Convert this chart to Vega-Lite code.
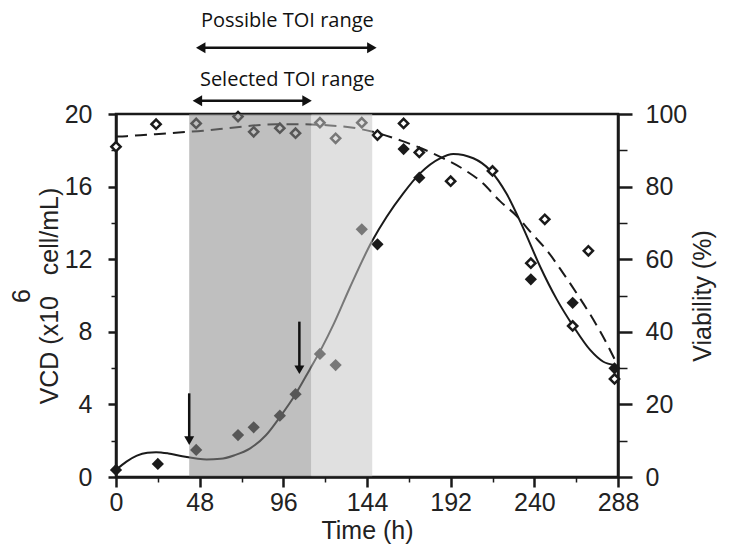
{
  "$schema": "https://vega.github.io/schema/vega-lite/v6.json",
  "width": 502,
  "height": 363,
  "autosize": {"type": "none"},
  "padding": {"left": 116, "top": 114, "right": 118, "bottom": 81},
  "background": "white",
  "config": {
    "view": {"stroke": "#1a1a1a", "strokeWidth": 2.5},
    "axis": {
      "grid": false,
      "labelFont": "Liberation Sans",
      "labelFontSize": 25,
      "labelColor": "#222222",
      "titleFont": "Liberation Sans",
      "titleFontSize": 25,
      "titleFontWeight": "normal",
      "titleColor": "#222222",
      "domainColor": "#1a1a1a",
      "domainWidth": 2.5,
      "tickColor": "#1a1a1a",
      "tickWidth": 2.5,
      "labelFlush": false,
      "labelOverlap": false
    }
  },
  "datasets": {
    "vcdFit": [
      {"t": 0, "v": 0.39}, {"t": 6, "v": 0.85}, {"t": 12, "v": 1.18}, {"t": 18, "v": 1.34},
      {"t": 23, "v": 1.37}, {"t": 30, "v": 1.3}, {"t": 38, "v": 1.14}, {"t": 46, "v": 1.02},
      {"t": 52, "v": 0.97}, {"t": 60, "v": 1.0}, {"t": 68, "v": 1.2}, {"t": 77, "v": 1.58},
      {"t": 86, "v": 2.3}, {"t": 94, "v": 3.3}, {"t": 103, "v": 4.56}, {"t": 111, "v": 5.9},
      {"t": 118, "v": 7.1}, {"t": 125, "v": 8.45}, {"t": 134, "v": 10.4}, {"t": 146.7, "v": 12.96},
      {"t": 155.3, "v": 14.34}, {"t": 164.8, "v": 15.63}, {"t": 174.4, "v": 16.73}, {"t": 185.9, "v": 17.56},
      {"t": 193.5, "v": 17.8}, {"t": 205, "v": 17.56}, {"t": 214.6, "v": 16.9}, {"t": 224.1, "v": 15.6},
      {"t": 233.7, "v": 13.7}, {"t": 243.3, "v": 11.6}, {"t": 252.8, "v": 9.8}, {"t": 262.4, "v": 8.3},
      {"t": 272, "v": 7.0}, {"t": 279.6, "v": 6.35}, {"t": 286, "v": 6.17}
    ],
    "vcdPts": [
      {"t": 0, "v": 0.39}, {"t": 24, "v": 0.72}, {"t": 46, "v": 1.49}, {"t": 70, "v": 2.31},
      {"t": 79, "v": 2.74}, {"t": 94, "v": 3.38}, {"t": 103, "v": 4.56}, {"t": 117, "v": 6.78},
      {"t": 126, "v": 6.17}, {"t": 141, "v": 13.65}, {"t": 150, "v": 12.82}, {"t": 165, "v": 18.07},
      {"t": 174, "v": 16.49}, {"t": 238, "v": 10.89}, {"t": 262, "v": 9.6}, {"t": 286, "v": 5.99}
    ],
    "viaFit": [
      {"t": 0, "v": 93.8}, {"t": 6, "v": 93.9}, {"t": 18, "v": 94.3}, {"t": 36, "v": 94.9},
      {"t": 50, "v": 95.4}, {"t": 64, "v": 96.1}, {"t": 76, "v": 96.7}, {"t": 92, "v": 97.2},
      {"t": 106, "v": 97.2}, {"t": 121, "v": 96.9}, {"t": 135, "v": 96.3}, {"t": 150.5, "v": 94.7},
      {"t": 164, "v": 92.6}, {"t": 175.4, "v": 90.5}, {"t": 186, "v": 88.2}, {"t": 199.3, "v": 84.8},
      {"t": 209.8, "v": 81.2}, {"t": 220.3, "v": 76.0}, {"t": 229.9, "v": 71.9}, {"t": 238.5, "v": 67.1},
      {"t": 247.1, "v": 62.5}, {"t": 256.6, "v": 56.1}, {"t": 264.3, "v": 50.6}, {"t": 273.9, "v": 43.3},
      {"t": 281.5, "v": 36.8}, {"t": 286, "v": 32.5}
    ],
    "viaPts": [
      {"t": 0, "v": 91.0}, {"t": 23, "v": 97.2}, {"t": 46, "v": 97.4}, {"t": 70, "v": 99.3},
      {"t": 79, "v": 95.1}, {"t": 94, "v": 96.1}, {"t": 103, "v": 94.7}, {"t": 117, "v": 97.6},
      {"t": 126, "v": 93.3}, {"t": 141, "v": 97.6}, {"t": 150, "v": 94.2}, {"t": 165, "v": 97.4},
      {"t": 174, "v": 89.4}, {"t": 192, "v": 81.5}, {"t": 216, "v": 84.3}, {"t": 238, "v": 58.9},
      {"t": 246, "v": 71.0}, {"t": 262, "v": 41.6}, {"t": 271, "v": 62.3}, {"t": 286, "v": 27.0}
    ],
    "shade": [
      {"x0": 42, "x1": 112, "zone": "selected"},
      {"x0": 112, "x1": 147, "zone": "possible"}
    ],
    "varrows": [
      {"t": 42, "top": 4.61, "head": 2.0},
      {"t": 105.2, "top": 8.56, "head": 5.91}
    ],
    "harrows": [
      {"a": 48, "b": 147.5, "y": 23.65},
      {"a": 46, "b": 110.5, "y": 20.73}
    ],
    "hheads": [
      {"t": 48.6, "y": 23.65, "dir": "left"},
      {"t": 146.8, "y": 23.65, "dir": "right"},
      {"t": 46.7, "y": 20.73, "dir": "left"},
      {"t": 109.6, "y": 20.73, "dir": "right"}
    ],
    "labels": [
      {"t": 98.3, "y": 24.77, "label": "Possible TOI range"},
      {"t": 98.3, "y": 21.54, "label": "Selected TOI range"}
    ]
  },
  "layer": [
    {
      "encoding": {
        "x": {
          "field": "t", "type": "quantitative",
          "scale": {"domain": [0, 288], "nice": false, "zero": false},
          "axis": {"orient": "bottom", "values": [0, 48, 96, 144, 192, 240, 288], "tickSize": 10, "labelPadding": 3, "title": "Time (h)", "titlePadding": 3, "zindex": 1}
        },
        "y": {
          "field": "v", "type": "quantitative",
          "scale": {"domain": [0, 20], "nice": false, "zero": false},
          "axis": {"orient": "left", "values": [0, 4, 8, 12, 16, 20], "tickSize": 8, "labelPadding": 16, "title": ["\u00a06", "VCD (x10\u00a0\u00a0\u00a0cell/mL)"], "titleLineHeight": 28, "titlePadding": 2}
        }
      },
      "layer": [
        {"data": {"name": "vcdFit"}, "mark": {"type": "line", "interpolate": "monotone", "color": "#1a1a1a", "strokeWidth": 2}},
        {"data": {"name": "vcdPts"}, "mark": {"type": "point", "shape": "diamond", "filled": true, "color": "#1a1a1a", "size": 150, "opacity": 1}}
      ]
    },
    {
      "encoding": {
        "x": {
          "field": "t", "type": "quantitative",
          "scale": {"domain": [0, 288], "nice": false, "zero": false},
          "axis": {"orient": "bottom", "values": [24, 72, 120, 168, 216, 264], "tickSize": 5, "tickWidth": 1.5, "labels": false, "domain": false, "title": null}
        },
        "y": {
          "field": "v", "type": "quantitative",
          "scale": {"domain": [0, 100], "nice": false, "zero": false},
          "axis": {"orient": "right", "values": [0, 20, 40, 60, 80, 100], "tickSize": 14, "labelPadding": 13, "title": "Viability (%)", "titleAngle": 270, "titleBaseline": "top", "titlePadding": 4}
        }
      },
      "layer": [
        {"data": {"name": "viaFit"}, "mark": {"type": "line", "interpolate": "monotone", "color": "#1a1a1a", "strokeWidth": 2, "strokeDash": [12, 7]}},
        {"data": {"name": "viaPts"}, "mark": {"type": "point", "shape": "diamond", "filled": true, "fill": "white", "stroke": "#1a1a1a", "strokeWidth": 2.5, "size": 85, "opacity": 1}}
      ]
    },
    {
      "layer": [
        {
          "data": {"name": "shade"},
          "mark": {"type": "rect", "opacity": 0.55},
          "encoding": {
            "x": {"field": "x0", "type": "quantitative", "scale": {"domain": [0, 288], "nice": false, "zero": false}, "axis": null},
            "x2": {"field": "x1"},
            "color": {"field": "zone", "type": "nominal", "scale": {"domain": ["selected", "possible"], "range": ["#8b8a8b", "#c7c7c7"]}, "legend": null}
          }
        },
        {
          "data": {"name": "varrows"},
          "mark": {"type": "rule", "color": "#111111", "strokeWidth": 2.5},
          "encoding": {
            "x": {"field": "t", "type": "quantitative", "scale": {"domain": [0, 288], "nice": false, "zero": false}, "axis": null},
            "y": {"field": "top", "type": "quantitative", "scale": {"domain": [0, 20], "nice": false, "zero": false},
              "axis": {"orient": "left", "values": [2, 6, 10, 14, 18], "tickSize": 5, "tickWidth": 1.5, "labels": false, "domain": false, "title": null}},
            "y2": {"field": "head"}
          }
        },
        {
          "data": {"name": "varrows"},
          "mark": {"type": "point", "shape": "triangle-down", "filled": true, "color": "#111111", "size": 100, "opacity": 1},
          "encoding": {
            "x": {"field": "t", "type": "quantitative"},
            "y": {"field": "head", "type": "quantitative"}
          }
        }
      ]
    },
    {
      "layer": [
        {
          "data": {"name": "harrows"},
          "mark": {"type": "rule", "color": "#111111", "strokeWidth": 2.5},
          "encoding": {
            "x": {"field": "a", "type": "quantitative", "scale": {"domain": [0, 288], "nice": false, "zero": false}, "axis": null},
            "x2": {"field": "b"},
            "y": {"field": "y", "type": "quantitative", "scale": {"domain": [0, 20], "nice": false, "zero": false},
              "axis": {"orient": "right", "values": [2, 6, 10, 14, 18], "tickSize": 9, "tickWidth": 1.5, "labels": false, "domain": false, "title": null}}
          }
        },
        {
          "data": {"name": "hheads"},
          "mark": {"type": "point", "filled": true, "color": "#111111", "size": 120, "opacity": 1},
          "encoding": {
            "x": {"field": "t", "type": "quantitative"},
            "y": {"field": "y", "type": "quantitative"},
            "shape": {"field": "dir", "type": "nominal", "scale": {"domain": ["left", "right"], "range": ["triangle-left", "triangle-right"]}, "legend": null}
          }
        },
        {
          "data": {"name": "labels"},
          "mark": {"type": "text", "font": "Open Sans", "fontSize": 20, "color": "#111111", "align": "center", "baseline": "alphabetic"},
          "encoding": {
            "x": {"field": "t", "type": "quantitative"},
            "y": {"field": "y", "type": "quantitative"},
            "text": {"field": "label"}
          }
        }
      ]
    }
  ],
  "resolve": {"scale": {"x": "independent", "y": "independent"}}
}
